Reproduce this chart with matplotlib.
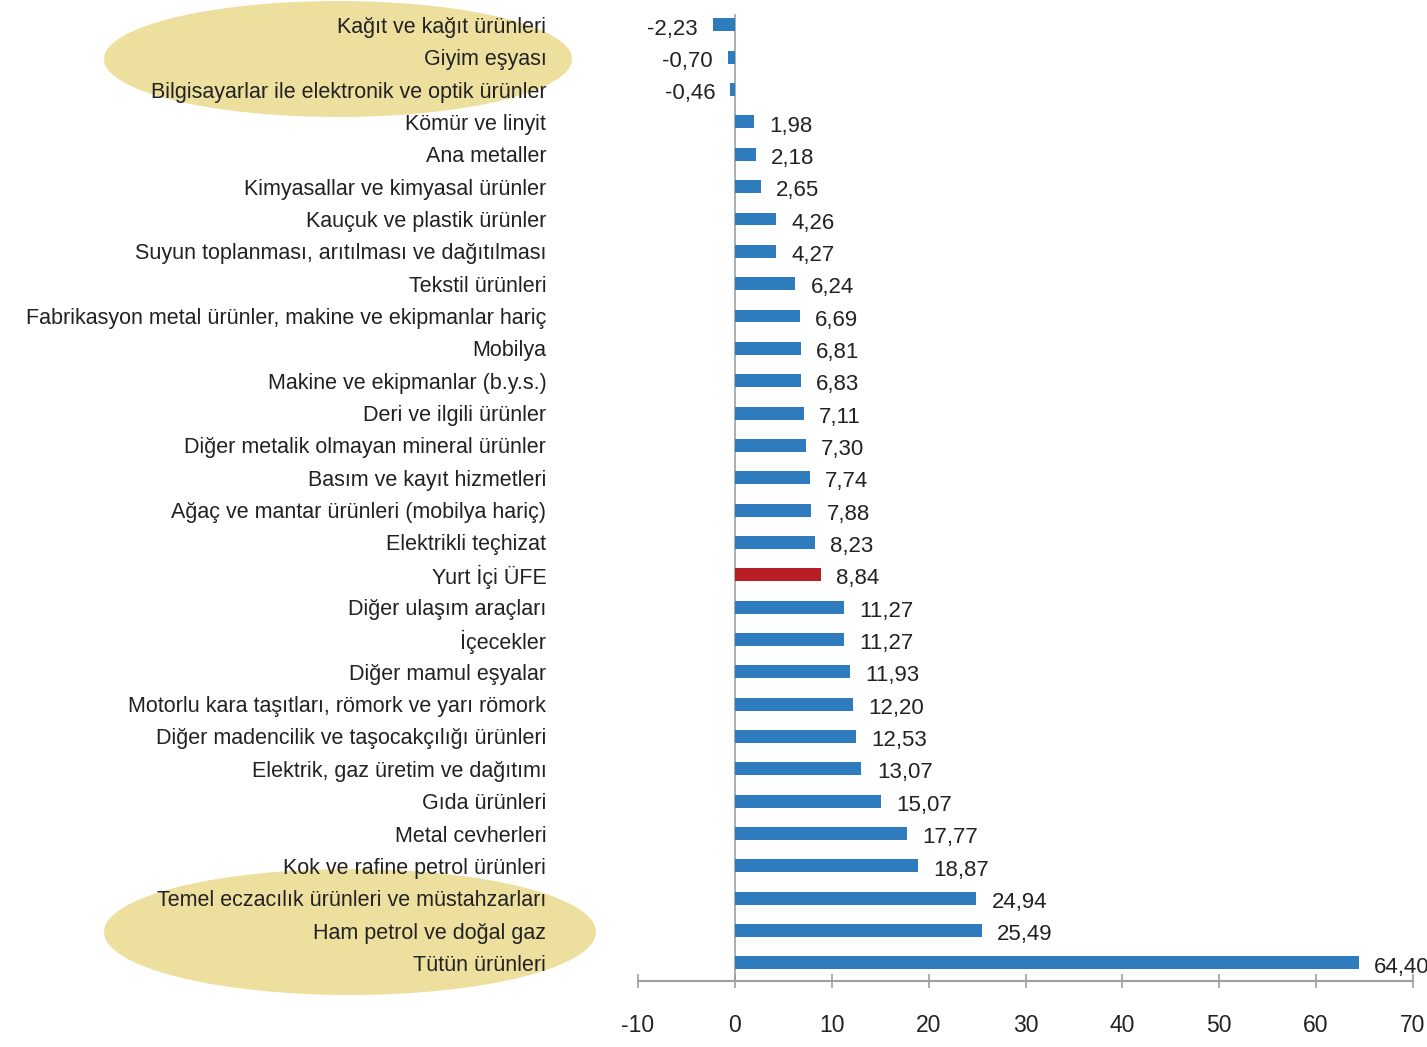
import matplotlib
matplotlib.use("Agg")
import matplotlib.pyplot as plt
from matplotlib.patches import Ellipse
from matplotlib import font_manager as fm

categories = [
    "Kağıt ve kağıt ürünleri",
    "Giyim eşyası",
    "Bilgisayarlar ile elektronik ve optik ürünler",
    "Kömür ve linyit",
    "Ana metaller",
    "Kimyasallar ve kimyasal ürünler",
    "Kauçuk ve plastik ürünler",
    "Suyun toplanması, arıtılması ve dağıtılması",
    "Tekstil ürünleri",
    "Fabrikasyon metal ürünler, makine ve ekipmanlar hariç",
    "Mobilya",
    "Makine ve ekipmanlar (b.y.s.)",
    "Deri ve ilgili ürünler",
    "Diğer metalik olmayan mineral ürünler",
    "Basım ve kayıt hizmetleri",
    "Ağaç ve mantar ürünleri (mobilya hariç)",
    "Elektrikli teçhizat",
    "Yurt İçi ÜFE",
    "Diğer ulaşım araçları",
    "İçecekler",
    "Diğer mamul eşyalar",
    "Motorlu kara taşıtları, römork ve yarı römork",
    "Diğer madencilik ve taşocakçılığı ürünleri",
    "Elektrik, gaz üretim ve dağıtımı",
    "Gıda ürünleri",
    "Metal cevherleri",
    "Kok ve rafine petrol ürünleri",
    "Temel eczacılık ürünleri ve müstahzarları",
    "Ham petrol ve doğal gaz",
    "Tütün ürünleri",
]
values = [-2.23, -0.70, -0.46, 1.98, 2.18, 2.65, 4.26, 4.27, 6.24, 6.69, 6.81, 6.83,
          7.11, 7.30, 7.74, 7.88, 8.23, 8.84, 11.27, 11.27, 11.93, 12.20, 12.53,
          13.07, 15.07, 17.77, 18.87, 24.94, 25.49, 64.40]
highlight = "Yurt İçi ÜFE"
xticks = [-10, 0, 10, 20, 30, 40, 50, 60, 70]

names = {f.name for f in fm.fontManager.ttflist}
fam = "Liberation Sans Narrow" if "Liberation Sans Narrow" in names else "Liberation Sans"
plt.rcParams["font.family"] = [fam, "DejaVu Sans"]

W, H = 1427, 1047
fig = plt.figure(figsize=(W / 100, H / 100), dpi=100)
fig.patch.set_facecolor("white")

ax = fig.add_axes([638 / W, 1 - 981 / H, (1413 - 638) / W, 981 / H])
ax.patch.set_alpha(0)

blue = "#2E7BBE"
red = "#B81E25"
colors = [red if c == highlight else blue for c in categories]
y = list(range(len(categories)))
ax.barh(y, values, height=0.4, color=colors, zorder=3)

ax.set_xlim(-10, 70)
ax.set_ylim(len(categories) - 1 + 0.56, -0.77)
ax.axvline(0, color="#A0A0A0", lw=1.2, zorder=2, ymax=0.985)

for s in ["top", "right", "left"]:
    ax.spines[s].set_visible(False)
ax.spines["bottom"].set_color("#A0A0A0")
ax.spines["bottom"].set_linewidth(1.5)

ax.set_xticks(xticks)
ax.set_xticklabels([str(t) for t in xticks], fontsize=16.5, color="#222222")
ax.tick_params(axis="x", direction="inout", length=10, width=1.2, color="#A0A0A0", pad=19)

ax.set_yticks(y)
ax.set_yticklabels(categories, fontsize=15.5, color="#222222")
ax.tick_params(axis="y", length=0, pad=66)

for yi, v in zip(y, values):
    lab = f"{v:.2f}".replace(".", ",")
    if v >= 0:
        ax.annotate(lab, (v, yi), xytext=(11, -3), textcoords="offset points",
                    ha="left", va="center", fontsize=16, color="#222222")
    else:
        ax.annotate(lab, (v, yi), xytext=(-11, -3), textcoords="offset points",
                    ha="right", va="center", fontsize=16, color="#222222")

# highlight ellipses (pixel positions -> inches)
ell_color = "#EDE09F"
e1 = Ellipse((338 / 100, (H - 59) / 100), 4.68, 1.16, transform=fig.dpi_scale_trans,
             facecolor=ell_color, edgecolor="none", zorder=-1)
e2 = Ellipse((350 / 100, (H - 932) / 100), 4.92, 1.26, transform=fig.dpi_scale_trans,
             facecolor=ell_color, edgecolor="none", zorder=-1)
fig.add_artist(e1)
fig.add_artist(e2)

fig.savefig("out.png", dpi=100, facecolor="white")
